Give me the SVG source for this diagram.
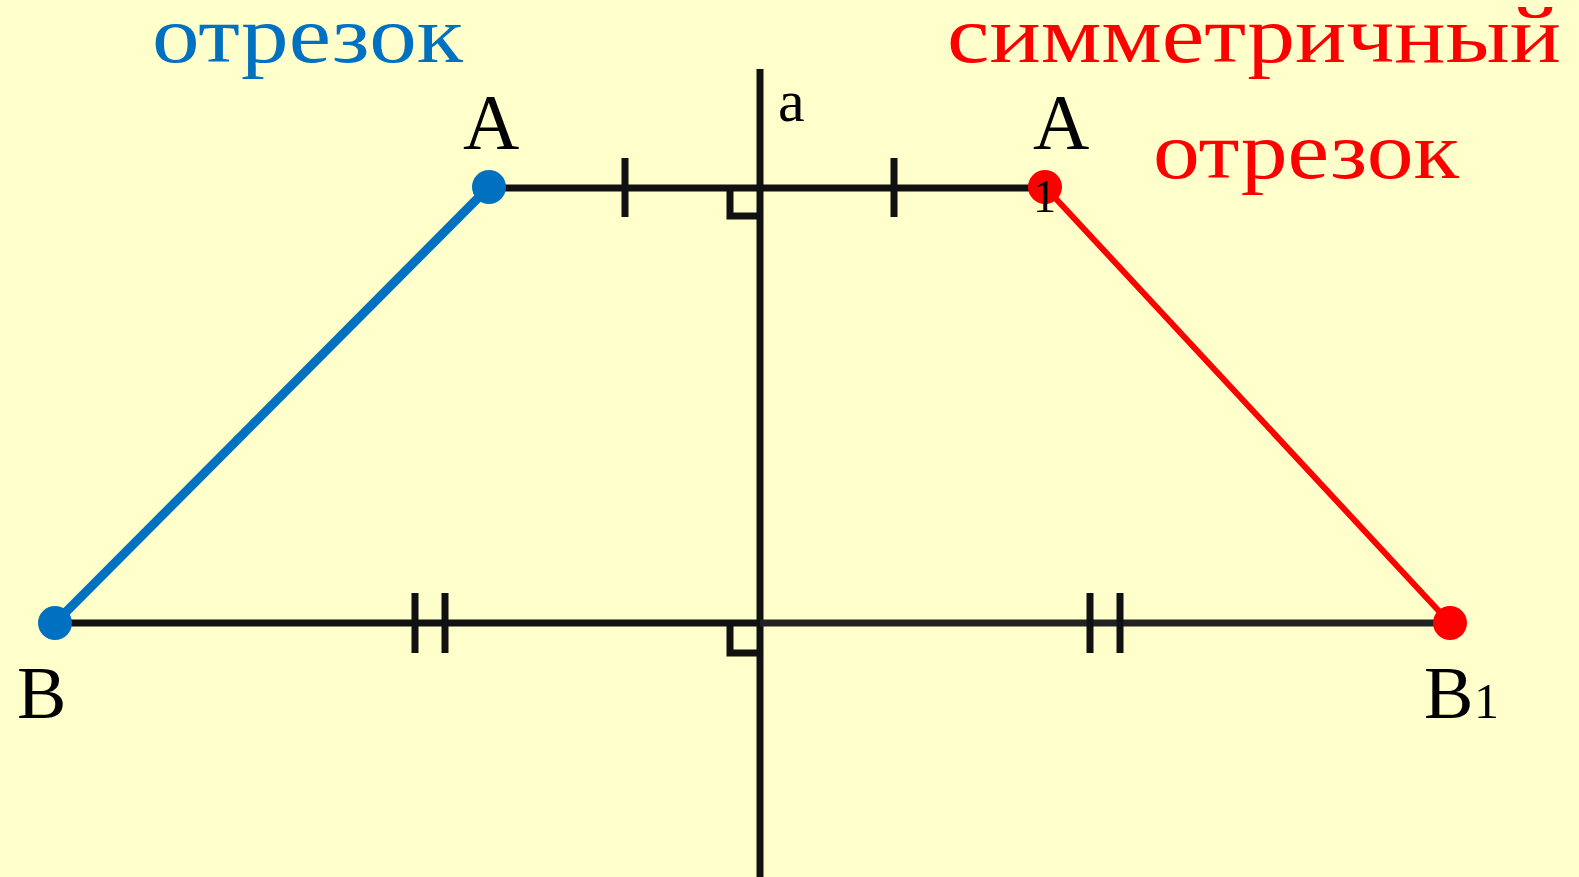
<svg xmlns="http://www.w3.org/2000/svg" width="1579" height="877" viewBox="0 0 1579 877">
<style>
.ln{stroke:#111;stroke-width:7;fill:none}
.lbl{font-family:"Liberation Serif","Times New Roman",serif;fill:#000}
.ttl{font-family:"Liberation Serif","Times New Roman",serif;font-size:80px}
</style>
<rect width="1579" height="877" fill="#FFFFCC"/>
<g id="connectors">
<line class="ln" x1="760" y1="69" x2="760" y2="877"/>
<line class="ln" x1="489" y1="188" x2="1045" y2="188"/>
<line class="ln" x1="55" y1="623" x2="760" y2="623"/>
<line x1="760" y1="623" x2="1450" y2="623" stroke="#222" stroke-width="7"/>
<line class="ln" x1="625" y1="158" x2="625" y2="217"/>
<line class="ln" x1="894" y1="158" x2="894" y2="217"/>
<line class="ln" x1="415" y1="593" x2="415" y2="653"/>
<line class="ln" x1="445" y1="593" x2="445" y2="653"/>
<line class="ln" x1="1090" y1="593" x2="1090" y2="653"/>
<line class="ln" x1="1120" y1="593" x2="1120" y2="653"/>
<polyline class="ln" points="730,188 730,216 760,216"/>
<polyline class="ln" points="730,623 730,653 760,653"/>
<line x1="489" y1="187" x2="55" y2="623" stroke="#0070C0" stroke-width="9"/>
<line x1="1045" y1="187" x2="1450" y2="623" stroke="#FF0000" stroke-width="6"/>
</g>
<g id="A">
<circle cx="489" cy="187" r="17" fill="#0070C0"/>
<text class="lbl" x="463" y="148" font-size="78">A</text>
</g>
<g id="B">
<circle cx="55" cy="623" r="17" fill="#0070C0"/>
<text class="lbl" x="17" y="718" font-size="74">B</text>
</g>
<g id="A1">
<circle cx="1045" cy="187" r="17" fill="#FF0000"/>
<text class="lbl" x="1033" y="148" font-size="78">A</text>
<text class="lbl" x="1033" y="212" font-size="46">1</text>
</g>
<g id="B1">
<circle cx="1450" cy="623" r="17" fill="#FF0000"/>
<text class="lbl" x="1424" y="718" font-size="74">B</text>
<text class="lbl" x="1474" y="718" font-size="50">1</text>
</g>
<g id="axis-label">
<text class="lbl" x="778" y="121" font-size="60">a</text>
</g>
<g id="titles">
<text class="ttl" x="152" y="62" fill="#0070C0" textLength="311" lengthAdjust="spacingAndGlyphs">отрезок</text>
<text class="ttl" x="947" y="62" fill="#FF0000" textLength="614" lengthAdjust="spacingAndGlyphs">симметричный</text>
<text class="ttl" x="1153" y="178" fill="#FF0000" textLength="306" lengthAdjust="spacingAndGlyphs">отрезок</text>
</g>
</svg>
